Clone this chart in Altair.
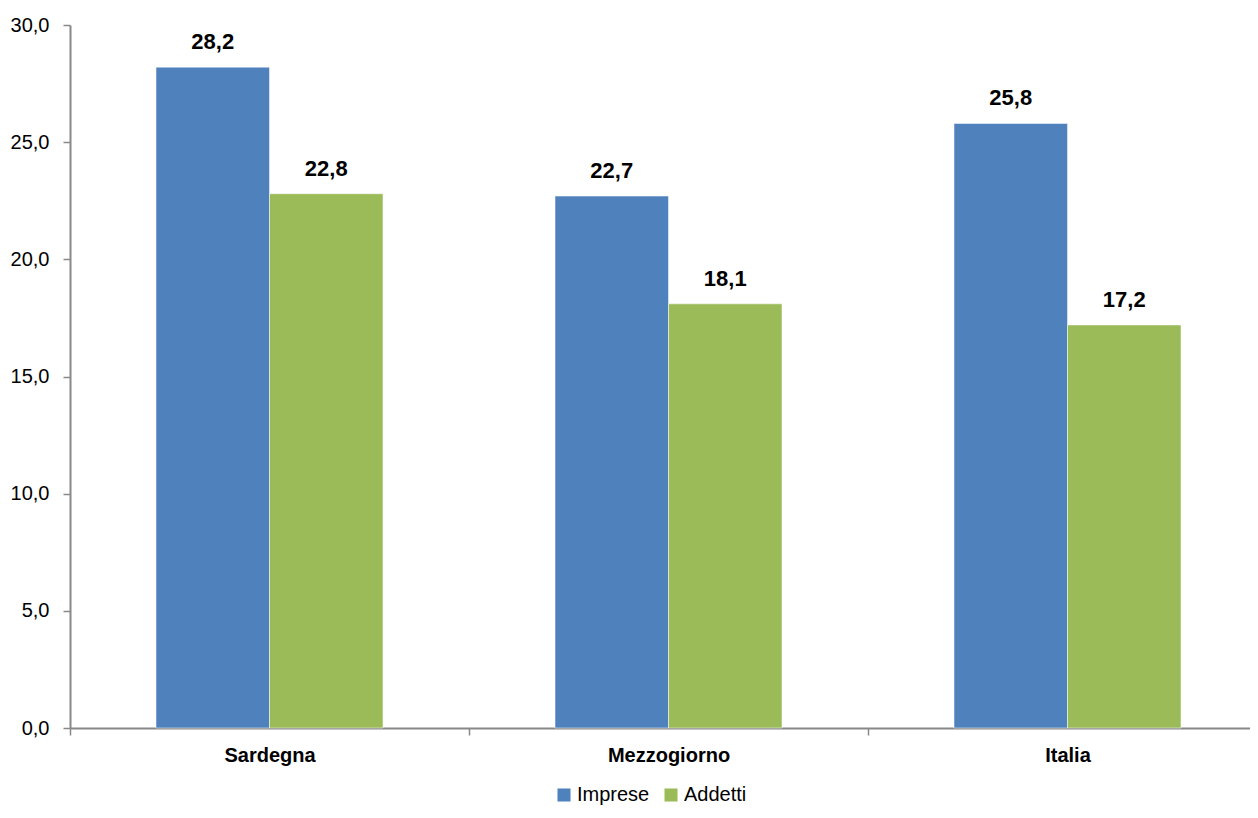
import altair as alt
import pandas as pd

regions = ["Sardegna", "Mezzogiorno", "Italia"]
series = ["Imprese", "Addetti"]
imprese = [28.2, 22.7, 25.8]
addetti = [22.8, 18.1, 17.2]
colors = ["#4F81BD", "#9BBB59"]

rows = []
for i, r in enumerate(regions):
    rows.append({"region": r, "serie": "Imprese", "value": imprese[i],
                 "label": f"{imprese[i]:.1f}".replace(".", ",")})
    rows.append({"region": r, "serie": "Addetti", "value": addetti[i],
                 "label": f"{addetti[i]:.1f}".replace(".", ",")})
df = pd.DataFrame(rows)

FONT = "Liberation Sans, Arial"

x = alt.X("region:N", sort=regions, title=None,
          scale=alt.Scale(paddingInner=0, paddingOuter=0, range=[0, 1197]),
          axis=alt.Axis(labelAngle=0, labelFontWeight="bold", labelFontSize=20,
                        labelFont=FONT, labelColor="#000000", labelPadding=10,
                        tickBand="extent", tickSize=7, tickColor="#888888",
                        domainColor="#888888", domainWidth=2, tickWidth=1.5))
xo = alt.XOffset("serie:N", sort=series,
                 scale=alt.Scale(paddingInner=0, paddingOuter=0.758))
y = alt.Y("value:Q", title=None,
          scale=alt.Scale(domain=[0, 30], nice=False),
          axis=alt.Axis(values=[0, 5, 10, 15, 20, 25, 30], grid=False,
                        labelExpr="replace(format(datum.value, '.1f'), '.', ',')",
                        labelFontSize=20, labelFont=FONT, labelColor="#000000",
                        labelPadding=14, tickSize=7, tickColor="#888888",
                        domainColor="#888888", domainWidth=2, tickWidth=1.5))

bars = alt.Chart(df).mark_bar(stroke="white", strokeWidth=0.5).encode(
    x=x, xOffset=xo, y=y,
    color=alt.Color("serie:N", sort=series,
                    scale=alt.Scale(domain=series, range=colors),
                    legend=alt.Legend(title=None, orient="none", direction="horizontal",
                                      legendX=484, legendY=760,
                                      symbolType="square", symbolSize=170,
                                      symbolStrokeWidth=0,
                                      labelFont=FONT, labelFontSize=20,
                                      labelColor="#000000", columnPadding=11,
                                      labelOffset=3)),
)

text = alt.Chart(df).mark_text(fontWeight="bold", fontSize=22, font=FONT,
                               baseline="alphabetic", dy=-18, color="#000000").encode(
    x=x, xOffset=xo, y=y, text="label:N")

chart = (bars + text).properties(
    width=1180, height=703,
    autosize=alt.AutoSizeParams(type="none"),
    padding={"left": 62, "top": 17, "right": 0, "bottom": 82},
).configure_view(stroke=None)

chart.save("out.html", embed_options={"renderer": "svg", "actions": False})
